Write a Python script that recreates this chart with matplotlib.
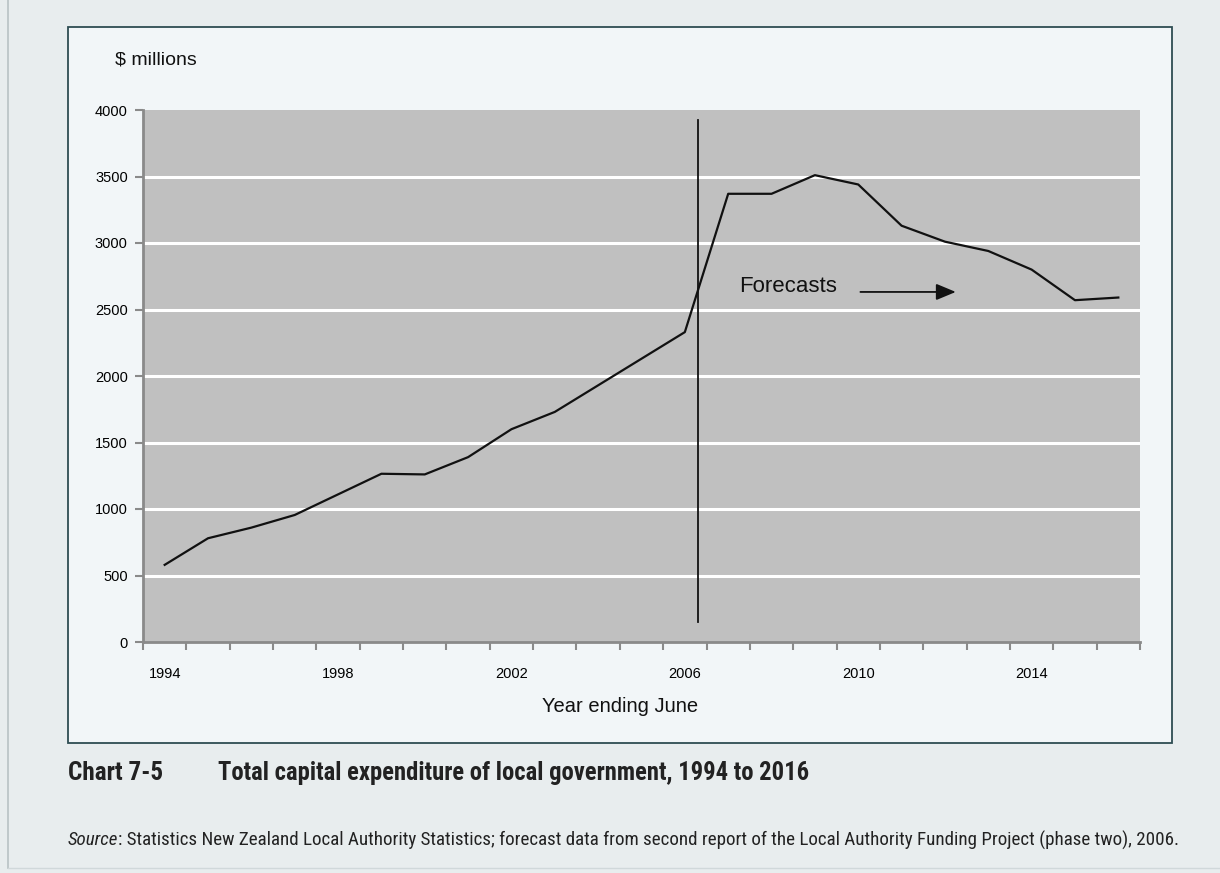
import matplotlib
matplotlib.use("Agg")
import matplotlib.pyplot as plt
from matplotlib.patches import Rectangle
from matplotlib.lines import Line2D
from matplotlib import font_manager

years = list(range(1994, 2017))
values = [580, 780, 860, 955, 1110, 1265, 1260, 1390, 1600, 1730, 1930, 2130, 2330,
          3370, 3370, 3510, 3440, 3130, 3010, 2940, 2800, 2570, 2590]
label_years = [1994, 1998, 2002, 2006, 2010, 2014]
y_ticks = [0, 500, 1000, 1500, 2000, 2500, 3000, 3500, 4000]
divider_year = 2006.30
forecast_label = "Forecasts"

W, H = 1220, 873
fig = plt.figure(figsize=(W / 100, H / 100), dpi=100)
fig.patch.set_facecolor("#e8edee")

def fx(px):
    return px / W

def fy(py):
    return 1 - py / H

# choose a narrow font for captions if available
installed = {f.name for f in font_manager.fontManager.ttflist}
cap_family = "Lato"
for cand in ["Liberation Sans Narrow", "DejaVu Sans Condensed", "Roboto Condensed",
             "Open Sans Condensed", "Lato"]:
    if cand in installed:
        cap_family = cand
        break

# outer thin lines
fig.add_artist(Line2D([fx(8), fx(8)], [fy(0), fy(868)], color="#b8c2c4", lw=1.2, zorder=-5))
fig.add_artist(Line2D([fx(8), fx(1220)], [fy(868), fy(868)], color="#d0d8da", lw=1.0, zorder=-5))
# panel (behind the axes)
panel = Rectangle((fx(68), fy(743)), fx(1172) - fx(68), fy(27) - fy(743),
                  transform=fig.transFigure, facecolor="#f2f6f8",
                  edgecolor="#2e4d52", lw=1.3, zorder=-10)
fig.patches.append(panel)

ax = fig.add_axes([fx(143), fy(642), fx(1140) - fx(143), fy(110) - fy(642)])
ax.set_zorder(1)
ax.set_facecolor("#c0c0c0")
idx = [y - years[0] for y in years]
ax.set_xlim(-0.5, len(years) - 0.5)
ax.set_ylim(0, 4000)

for v in y_ticks[1:-1]:
    ax.axhline(v, color="white", lw=2.2, zorder=1)

ax.plot(idx, values, color="#111111", lw=1.6, zorder=3)

dx = divider_year - years[0]
ax.plot([dx, dx], [150, 3925], color="#111111", lw=1.3, zorder=3)

fx_idx = 2007.25 - years[0]
ax.text(fx_idx, 2672, forecast_label, fontsize=16, family="Liberation Sans",
        color="#111111", va="center", ha="left", zorder=4)
ax.annotate("", xy=(2012.25 - years[0], 2632), xytext=(2010.05 - years[0], 2632),
            arrowprops=dict(arrowstyle="-|>,head_length=1.2,head_width=0.5",
                            color="#111111", lw=1.3, shrinkA=0, shrinkB=0), zorder=4)

for s in ["top", "right"]:
    ax.spines[s].set_visible(False)
for s in ["left", "bottom"]:
    ax.spines[s].set_color("#8a8a8a")
    ax.spines[s].set_linewidth(2)

ax.set_yticks(y_ticks)
ax.set_yticklabels([str(t) for t in y_ticks], fontsize=10.5, family="Liberation Sans")
ax.tick_params(axis="y", length=6, width=1.5, color="#8a8a8a", pad=5)

ax.set_xticks([y - years[0] for y in label_years])
ax.set_xticklabels([str(y) for y in label_years], fontsize=10.5, family="Liberation Sans")
ax.tick_params(axis="x", which="major", length=0, pad=18)
ax.set_xticks([i - 0.5 for i in range(len(years) + 1)], minor=True)
ax.tick_params(axis="x", which="minor", length=6, width=1.5, color="#8a8a8a")

fig.text(fx(115), fy(60), "$ millions", fontsize=14, family="Liberation Sans",
         va="center", ha="left", color="#111111")
fig.text(fx(620), fy(706), "Year ending June", fontsize=14.5, family="Liberation Sans",
         va="center", ha="center", color="#111111")

renderer = fig.canvas.get_renderer()

def fit_text(x0, y, s, target_w, size, **kw):
    t = fig.text(fx(x0), fy(y), s, fontsize=size, va="center", ha="left", **kw)
    w = t.get_window_extent(renderer).width
    t.set_fontsize(size * target_w / w)
    return t

fit_text(68, 773, "Chart 7-5", 95, 15, family=cap_family, weight="bold", color="#222222")
fit_text(218, 773, "Total capital expenditure of local government, 1994 to 2016", 592, 15,
         family=cap_family, weight="bold", color="#222222")

src_size = 11.5
t1 = fig.text(fx(68), fy(840), "Source", fontsize=src_size, family=cap_family,
              style="italic", va="center", ha="left", color="#222222")
t2 = fig.text(fx(68), fy(840),
              ": Statistics New Zealand Local Authority Statistics; forecast data from second report "
              "of the Local Authority Funding Project (phase two), 2006.",
              fontsize=src_size, family=cap_family, va="center", ha="left", color="#222222")
w_total = t1.get_window_extent(renderer).width + t2.get_window_extent(renderer).width
scale = 1115 / w_total
t1.set_fontsize(src_size * scale)
t2.set_fontsize(src_size * scale)
w1 = t1.get_window_extent(renderer).width
t2.set_x(fx(68 + w1))

fig.savefig("out.png", dpi=100, facecolor=fig.get_facecolor())
